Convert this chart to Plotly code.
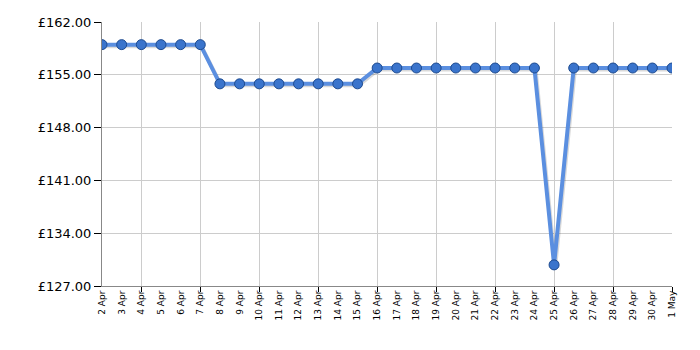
import plotly.graph_objects as go

dates = ["2 Apr", "3 Apr", "4 Apr", "5 Apr", "6 Apr", "7 Apr", "8 Apr", "9 Apr", "10 Apr",
         "11 Apr", "12 Apr", "13 Apr", "14 Apr", "15 Apr", "16 Apr", "17 Apr", "18 Apr",
         "19 Apr", "20 Apr", "21 Apr", "22 Apr", "23 Apr", "24 Apr", "25 Apr", "26 Apr",
         "27 Apr", "28 Apr", "29 Apr", "30 Apr", "1 May"]
prices = [159.0, 159.0, 159.0, 159.0, 159.0, 159.0,
          153.8, 153.8, 153.8, 153.8, 153.8, 153.8, 153.8, 153.8,
          155.9, 155.9, 155.9, 155.9, 155.9, 155.9, 155.9, 155.9, 155.9,
          129.8,
          155.9, 155.9, 155.9, 155.9, 155.9, 155.9]
y_ticks = [127, 134, 141, 148, 155, 162]
y_tick_text = ["\u00a3%.2f" % v for v in y_ticks]

x = list(range(len(dates)))
grid_x = x[2::3]

fig = go.Figure()
# soft shadow
fig.add_trace(go.Scatter(x=[v + 0.06 for v in x], y=[p - 0.2 for p in prices], mode="lines",
                         line=dict(color="rgba(0,0,0,0.15)", width=4), hoverinfo="skip",
                         showlegend=False))
fig.add_trace(go.Scatter(x=x, y=prices, mode="lines+markers",
                         line=dict(color="#5b8fe0", width=4),
                         marker=dict(size=10, color="#3a74cc",
                                     line=dict(color="#1d4a8f", width=1)),
                         showlegend=False))

fig.update_layout(
    width=700, height=350,
    margin=dict(l=102, r=28, t=22, b=64),
    paper_bgcolor="white", plot_bgcolor="white",
    font=dict(family="DejaVu Sans, Verdana, sans-serif", color="black"),
    xaxis=dict(
        range=[0, len(dates) - 1],
        tickmode="array", tickvals=x, ticktext=dates, tickangle=-90,
        tickfont=dict(size=9), ticks="", showgrid=False,
        showline=True, linecolor="#888888", linewidth=1,
        zeroline=False,
        minor=dict(tickmode="array", tickvals=grid_x, ticks="outside", ticklen=5,
                   tickcolor="black", showgrid=True, gridcolor="#cccccc", gridwidth=1),
    ),
    yaxis=dict(
        range=[127, 162], tickmode="array", tickvals=y_ticks, ticktext=y_tick_text,
        tickfont=dict(size=13),
        ticks="outside", ticklen=7, tickcolor="black",
        showgrid=True, gridcolor="#cccccc", gridwidth=1,
        showline=True, linecolor="#888888", linewidth=1, zeroline=False,
    ),
)

fig.write_html("out.html")
